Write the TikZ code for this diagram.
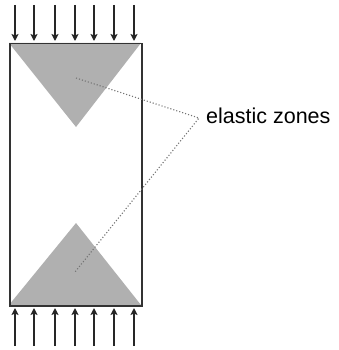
\documentclass[tikz,border=0pt]{standalone}
\usepackage{fontspec}
\setmainfont{Liberation Sans}
\usetikzlibrary{arrows.meta,positioning}
\definecolor{zonegray}{RGB}{176,176,176}

\begin{document}
\begin{tikzpicture}[x=1pt,y=-1pt,
  zone/.style={fill=zonegray,draw=none},
  load/.style={-{Stealth[length=7pt,width=7pt,inset=1.5pt]},line width=2pt,black!85},
  lead/.style={dotted,line width=1.1pt,black!55},
  lbl/.style={font=\fontsize{21.5}{24}\selectfont,inner sep=0pt,anchor=west}]
\useasboundingbox (0,0) rectangle (338,350);
\fill[zone] (9,43) -- (141,43) -- (76,127) -- cycle;
\fill[zone] (9,305) -- (141,305) -- (76,223) -- cycle;
\node[draw=black!80,line width=1.5pt,minimum width=132pt,minimum height=262pt,inner sep=0pt,anchor=north west] (column) at (9,43) {};
\foreach \x in {15,34,55,75,94,114,134} {
  \draw[load] (\x,5) -- (\x,41);
  \draw[load] (\x,346) -- (\x,308);
}
\node[lbl] (zones) at (206,116) {elastic zones};
\coordinate (topzone) at (76,78);
\coordinate (botzone) at (75,272);
\coordinate (tip) at ([xshift=-7pt,yshift=-2pt]zones.west);
\draw[lead] (topzone) -- (tip) -- (botzone);
\end{tikzpicture}
\end{document}
